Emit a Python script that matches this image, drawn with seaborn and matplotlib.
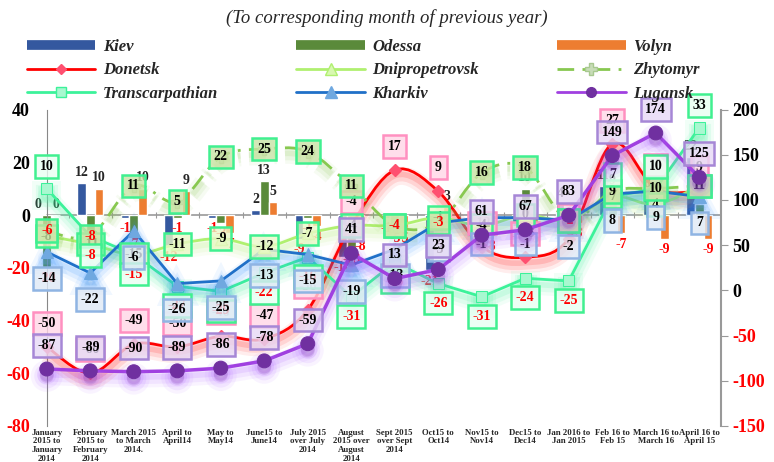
import numpy as np
import pandas as pd
import matplotlib
matplotlib.use('Agg')
import matplotlib.pyplot as plt
import matplotlib.patheffects as pe
from matplotlib.path import Path
from matplotlib.patches import PathPatch
from matplotlib.lines import Line2D
from matplotlib.colors import to_rgba
import seaborn as sns

# Categories
months = ['January\n2015 to\nJanuary\n2014', 'February\n2015 to\nFebruary\n2014',
          'March 2015\nto March\n2014.', 'April to\nApril14', 'May to\nMay14',
          'June15 to\nJune14', 'July 2015\nover July\n2014', 'August\n2015 over\nAugust\n2014',
          'Sept 2015\nover Sept\n2014', 'Oct15 to\nOct14', 'Nov15 to\nNov14', 'Dec15 to\nDec14',
          'Jan 2016 to\nJan 2015', 'Feb 16 to\nFeb 15', 'March 16 to\nMarch 16', 'April 16 to\nApril 15']

# Bars (left axis)
kiev = [0, 12, -1, -12, -1, 2, -9, -16, -1, -21, -3, -4, 4, 11, 8, 22]
odessa = [-20, -7, -7, -1, -3, 13, -1, -13, -5, -6, -9, 10, -2, 9, 3, 4]
volyn = [0, 10, 10, 9, -7, 5, -4, -8, -5, 3, -8, -5, -3, -7, -9, -9]

# Lines (left axis)
donetsk = [-50, -60, -49, -50, -46, -47, -36, -4, 17, 9, -12, -16, -9, 27, 10, 9]
dnipro = [-8, -11, -15, -11, -9, -12, -7, -4, -4, -1, -4, 0, -2, 7, 4, 11]
zhytomyr = [-6, -8, 11, 5, 22, 25, 24, 11, -4, -3, 16, 18, -2, 9, 10, 11]
transc = [10, -8, -15, -27, -29, -22, -16, -31, -18, -26, -31, -24, -25, 7, 10, 33]
kharkiv = [-14, -22, -6, -26, -25, -13, -15, -19, -13, -3, -1, -1, -2, 8, 9, 7]

# Line (right axis)
lugansk = [-87, -89, -90, -89, -86, -78, -59, 41, 13, 23, 61, 67, 83, 149, 174, 125]

left_ticks = [40, 20, 0, -20, -40, -60, -80]
right_ticks = [200, 150, 100, 50, 0, -50, -100, -150]

c_kiev, c_odessa, c_volyn = '#34589f', '#5a8a3a', '#ed7d31'
c_don, c_dni, c_zhy = '#ff0000', '#b0f070', '#88c850'
c_tra, c_kha, c_lug = '#3cf29a', '#2070c8', '#a040e0'

sns.set_style('white')
plt.rcParams['font.family'] = ['Liberation Serif', 'DejaVu Serif']

fig = plt.figure(figsize=(7.74, 4.62), dpi=100)
ax = fig.add_axes([25 / 774, 36 / 462, 696 / 774, 316.5 / 462])

bars = pd.DataFrame({'month': months * 3,
                     'region': ['Kiev'] * 16 + ['Odessa'] * 16 + ['Volyn'] * 16,
                     'value': kiev + odessa + volyn})
sns.barplot(data=bars, x='month', y='value', hue='region', palette=[c_kiev, c_odessa, c_volyn],
            width=0.6, gap=0, saturation=1, legend=False, ax=ax, zorder=2)

for cont in ax.containers:
    texts = ax.bar_label(cont, fmt='%d', padding=3, fontsize=10, fontweight='bold')
    for t in texts:
        if t.get_text().startswith('-'):
            t.set_color('red')

xs = np.arange(len(months))


def glow(color):
    return [pe.Stroke(offset=(0, -5), linewidth=13, foreground=color, alpha=0.07),
            pe.Stroke(offset=(0, -5), linewidth=8, foreground=color, alpha=0.10),
            pe.Stroke(offset=(0, -4), linewidth=4, foreground=color, alpha=0.14),
            pe.Normal()]


def smooth_path(xv, yv):
    pts = np.column_stack([xv, yv]).astype(float)
    ext = np.vstack([pts[0], pts, pts[-1]])
    verts, codes = [pts[0]], [Path.MOVETO]
    for i in range(len(pts) - 1):
        p0, p1, p2, p3 = ext[i], ext[i + 1], ext[i + 2], ext[i + 3]
        verts += [p1 + (p2 - p0) / 6, p2 - (p3 - p1) / 6, p2]
        codes += [Path.CURVE4] * 3
    return Path(verts, codes)


def smooth_line(axis, vals, color, ls='-', lw=2, z=3):
    patch = PathPatch(smooth_path(xs, vals), fill=False, edgecolor=color, lw=lw,
                      linestyle=ls, zorder=z, path_effects=glow(color))
    axis.add_patch(patch)


# smoothed series
smooth_line(ax, donetsk, c_don, z=3)
ax.plot(xs, donetsk, linestyle='none', marker='D', ms=6, color='#ff5070', zorder=3.1)
smooth_line(ax, dnipro, c_dni, z=3)
ax.plot(xs, dnipro, linestyle='none', marker='^', ms=9, mfc='#d8f8b0', mec=c_dni, zorder=3.1)
smooth_line(ax, zhytomyr, c_zhy, ls=(0, (6, 3, 1, 3)), z=3)
ax.plot(xs, zhytomyr, linestyle='none', marker='P', ms=9, mfc='#c8dcb8', mec='#a8c890', zorder=3.1)

# straight series
sns.lineplot(x=xs, y=transc, ax=ax, color=c_tra, lw=2, marker='s', markersize=8,
             markerfacecolor='#a8f8d0', markeredgecolor=c_tra, path_effects=glow(c_tra), zorder=3)
sns.lineplot(x=xs, y=kharkiv, ax=ax, color=c_kha, lw=2, marker='^', markersize=9,
             markerfacecolor='#6fa8e0', markeredgecolor='#6fa8e0', path_effects=glow('#3090ff'), zorder=3)


def box_labels(axis, vals, dy, fc, ec, neg_red=False, z=5, above_pos=None):
    for i, v in enumerate(vals):
        off = dy
        if above_pos is not None and v > 0:
            off = above_pos
        axis.annotate(f'{v}', (i, v), xytext=(0, off), textcoords='offset points',
                      ha='center', va='center', fontsize=10, fontweight='bold',
                      color='red' if (neg_red and v < 0) else 'black', zorder=z,
                      bbox=dict(boxstyle='square,pad=0.35', fc=to_rgba(fc, 0.8), ec=ec, lw=1.8))


box_labels(ax, donetsk, 17, '#ffd6e6', '#ff90c0', z=5)
box_labels(ax, dnipro, 0, '#eaf8c8', '#40f090', z=5.1)
box_labels(ax, zhytomyr, 0, '#c9e3a5', '#40f090', neg_red=True, z=5.2)
box_labels(ax, transc, -14, '#e8fff2', '#40f090', neg_red=True, z=5.3, above_pos=16)
box_labels(ax, kharkiv, -19, '#dfe9f6', '#8fb4e3', z=5.4)

# right axis
ax2 = ax.twinx()
sns.lineplot(x=xs, y=lugansk, ax=ax2, color=c_lug, lw=2.5, marker='o', markersize=10,
             markerfacecolor='#7030a0', markeredgecolor='#7030a0', path_effects=glow('#b060ff'), zorder=3)
box_labels(ax2, lugansk, 17, '#e6d9f5', '#a687d6', z=5)

# axes styling (spine position first: moving a spine rebuilds its ticks)
ax.spines['left'].set_position(('data', 0))
ax.spines['left'].set_color('#888888')
for s in ['top', 'bottom', 'right']:
    ax.spines[s].set_visible(False)
for s in ['top', 'bottom', 'left']:
    ax2.spines[s].set_visible(False)
ax2.spines['right'].set_color('#999999')
ax2.spines['right'].set_linewidth(1.5)

ax.set_xlim(-0.5, 15.5)
ax.set_ylim(-80, 40)
ax2.set_ylim(-150, 200)
ax.set_xlabel('')
ax.set_ylabel('')
ax2.set_ylabel('')

ax.tick_params(axis='x', length=0, pad=2)
ax.tick_params(axis='y', length=0, pad=12)
ax2.tick_params(axis='y', direction='out', length=5, color='#999999', pad=3)

ax.set_yticks(left_ticks, labels=[str(t) for t in left_ticks], fontsize=13, fontweight='bold')
ax2.set_yticks(right_ticks, labels=[str(t) for t in right_ticks], fontsize=13, fontweight='bold')
for t, v in zip(ax.get_yticklabels(), left_ticks):
    t.set_color('red' if v < 0 else 'black')
for t, v in zip(ax2.get_yticklabels(), right_ticks):
    t.set_color('red' if v < 0 else 'black')

ax.set_xticks(xs, labels=months, fontsize=6.3, fontweight='bold', linespacing=1.1, va='top')

ax.axhline(0, xmin=0.5 / 16, color='#999999', lw=1.2, zorder=1.5)
sec = ax.secondary_xaxis(2 / 3)
sec.set_xticks(np.arange(0.5, 15.5, 1), labels=[])
sec.tick_params(axis='x', direction='inout', length=5, color='#999999')
for s in sec.spines.values():
    s.set_visible(False)

fig.text(0.5, 1 - 18 / 462, '(To corresponding month of previous year)', ha='center', va='center',
         fontsize=13.5, style='italic')

handles = [
    Line2D([], [], color=c_kiev, lw=7, solid_capstyle='butt'),
    Line2D([], [], color=c_don, lw=2, marker='D', ms=5, mfc='#ff5070', mec='#ff5070'),
    Line2D([], [], color=c_tra, lw=2, marker='s', ms=7, mfc='#a8f8d0', mec=c_tra),
    Line2D([], [], color=c_odessa, lw=7, solid_capstyle='butt'),
    Line2D([], [], color=c_dni, lw=2, marker='^', ms=8, mfc='#d8f8b0', mec=c_dni),
    Line2D([], [], color=c_kha, lw=2, marker='^', ms=8, mfc='#6fa8e0', mec='#6fa8e0'),
    Line2D([], [], color=c_volyn, lw=7, solid_capstyle='butt'),
    Line2D([], [], color=c_zhy, lw=2, ls=(0, (6, 3, 1, 3)), marker='P', ms=8, mfc='#c8dcb8', mec='#a8c890'),
    Line2D([], [], color=c_lug, lw=2, marker='o', ms=7, mfc='#7030a0', mec='#7030a0'),
]
labels = ['Kiev', 'Donetsk', 'Transcarpathian', 'Odessa', 'Dnipropetrovsk', 'Kharkiv',
          'Volyn', 'Zhytomyr', 'Lugansk']
fig.legend(handles, labels, ncol=3, loc='upper left', bbox_to_anchor=(27 / 774, 1 - 39 / 462),
           frameon=False, borderpad=0, borderaxespad=0, handlelength=4.1, handletextpad=0.45,
           columnspacing=4.7, labelspacing=0.45,
           prop={'family': 'Liberation Serif', 'weight': 'bold', 'style': 'italic', 'size': 12})

fig.savefig('out.png', dpi=100)
